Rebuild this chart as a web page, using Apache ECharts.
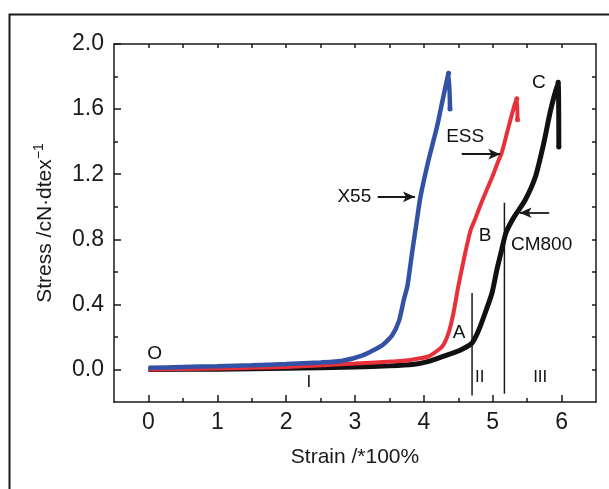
<!DOCTYPE html>
<html>
<head>
<meta charset="utf-8">
<script src="https://cdn.jsdelivr.net/npm/echarts@6/dist/echarts.min.js"></script>
<style>
  html, body { margin: 0; padding: 0; background: #fff; }
  #chart { width: 609px; height: 489px; }
</style>
</head>
<body>
<div id="chart"></div>
<script>
// tick positions
var majorX = [0, 1, 2, 3, 4, 5, 6];
var minorX = [0.5, 1.5, 2.5, 3.5, 4.5, 5.5];
var allX = [0, 0.5, 1, 1.5, 2, 2.5, 3, 3.5, 4, 4.5, 5, 5.5, 6];
var majorY = [0, 0.4, 0.8, 1.2, 1.6, 2.0];
var minorY = [0.2, 0.6, 1.0, 1.4, 1.8];
var allY = [0, 0.2, 0.4, 0.6, 0.8, 1.0, 1.2, 1.4, 1.6, 1.8];

// curves [strain, stress]
var x55 = [[0, 0.01], [0.5, 0.015], [1, 0.02], [1.5, 0.026], [2, 0.033], [2.5, 0.043], [2.8, 0.052],
  [3.1, 0.085], [3.4, 0.15], [3.54, 0.21], [3.64, 0.3], [3.71, 0.43], [3.76, 0.51], [3.83, 0.72],
  [3.9, 0.92], [3.95, 1.06], [4.07, 1.29], [4.19, 1.49], [4.29, 1.69], [4.36, 1.82], [4.38, 1.6]];
var ess = [[0, 0.0], [0.5, 0.003], [1, 0.006], [1.5, 0.01], [2, 0.015], [2.6, 0.028], [3, 0.036],
  [3.59, 0.05], [3.83, 0.06], [4.07, 0.08], [4.27, 0.143], [4.36, 0.226], [4.43, 0.347], [4.5, 0.51],
  [4.6, 0.715], [4.68, 0.857], [4.75, 0.93], [4.85, 1.04], [4.99, 1.18], [5.09, 1.29], [5.13, 1.33],
  [5.23, 1.49], [5.35, 1.664], [5.36, 1.535]];
var cm800 = [[0, 0.0], [1, 0.002], [2, 0.007], [3, 0.015], [3.5, 0.022], [3.83, 0.03], [4.07, 0.05],
  [4.31, 0.085], [4.51, 0.115], [4.7, 0.163], [4.8, 0.245], [4.89, 0.347], [4.99, 0.47], [5.06, 0.612],
  [5.13, 0.735], [5.19, 0.837], [5.3, 0.93], [5.47, 1.04], [5.62, 1.184], [5.74, 1.388], [5.84, 1.592],
  [5.95, 1.765], [5.96, 1.367]];

// stage boundary lines
var boundary1 = [[4.70, -0.16], [4.70, 0.47]];
var boundary2 = [[5.17, -0.15], [5.17, 1.025]];

// arrows [from, to]
var arrows = [
  [[3.33, 1.061], [3.87, 1.061]],
  [[4.55, 1.323], [5.11, 1.323]],
  [[5.82, 0.963], [5.39, 0.963]]
];

// text annotations [x, y, text]
var notes = [[0.09, 0.098, 'O'], [4.51, 0.225, 'A'], [4.89, 0.82, 'B'], [5.67, 1.76, 'C'],
  [4.60, 1.433, 'ESS'], [2.99, 1.061, 'X55'], [5.71, 0.765, 'CM800']];
var stages = [[2.33, -0.08, 'I'], [4.81, -0.049, 'II'], [5.69, -0.049, 'III']];

var FONT = "'Liberation Sans', Arial, sans-serif";
var INK = '#1a1a1a';

// last two points get a small dot
function withEnds(arr, color) {
  return arr.map(function (p, i) {
    if (i >= arr.length - 2) {
      return {value: p, symbol: 'circle', symbolSize: 5, itemStyle: {color: color}};
    }
    return p;
  });
}

function xAx(pos, ticks, len, labels, showLine) {
  return {
    type: 'value', min: -0.5, max: 6.5, position: pos,
    splitLine: {show: false},
    axisLine: {show: showLine, onZero: false, lineStyle: {color: INK, width: 1.5}},
    axisTick: {show: true, inside: true, length: len, customValues: ticks, lineStyle: {color: INK, width: 1.5}},
    axisLabel: labels ? {show: true, customValues: labels, fontSize: 23, color: INK, fontFamily: FONT, margin: 9}
      : {show: false}
  };
}
function yAx(pos, ticks, len, labels, showLine) {
  return {
    type: 'value', min: -0.2, max: 2.0, position: pos,
    splitLine: {show: false},
    axisLine: {show: showLine, onZero: false, lineStyle: {color: INK, width: 1.5}},
    axisTick: {show: true, inside: true, length: len, customValues: ticks, lineStyle: {color: INK, width: 1.5}},
    axisLabel: labels ? {show: true, customValues: labels, fontSize: 23, color: INK, fontFamily: FONT, margin: 10,
      formatter: function (v) { return v.toFixed(1); }}
      : {show: false}
  };
}

var xMain = xAx('bottom', majorX, 7, majorX, true);
xMain.name = 'Strain /*100%';
xMain.nameLocation = 'middle';
xMain.nameGap = 45;
xMain.nameTextStyle = {fontSize: 21, color: INK, fontFamily: FONT};

var yMain = yAx('left', majorY, 7, majorY, true);
yMain.name = 'Stress /cN·dtex{sup|−1}';
yMain.nameLocation = 'middle';
yMain.nameGap = 56;
yMain.nameTextStyle = {fontSize: 21, color: INK, fontFamily: FONT,
  rich: {sup: {fontSize: 14, verticalAlign: 'top', color: INK, fontFamily: FONT, padding: [0, 0, 12, 0]}}};

var myChart = echarts.init(document.getElementById('chart'), null, {renderer: 'canvas'});

var option = {
  animation: false,
  backgroundColor: '#fff',
  grid: {left: 114, right: 13, top: 44, bottom: 87},
  graphic: [{
    type: 'rect', left: 7, top: 12, shape: {width: 640, height: 520},
    style: {fill: 'none', stroke: INK, lineWidth: 2}, silent: true
  }],
  xAxis: [xMain, xAx('bottom', minorX, 4, null, false), xAx('top', allX, 4, null, true)],
  yAxis: [yMain, yAx('left', minorY, 4, null, false), yAx('right', allY, 4, null, true)],
  series: [
    {type: 'line', data: boundary1, symbol: 'none', lineStyle: {color: INK, width: 1.5}, z: 1},
    {type: 'line', data: boundary2, symbol: 'none', lineStyle: {color: INK, width: 1.5}, z: 1},
    {name: 'CM800', type: 'line', data: withEnds(cm800, '#111'), symbol: 'none', showSymbol: true, smooth: 0.2,
      lineStyle: {color: '#111', width: 5}, z: 2},
    {name: 'ESS', type: 'line', data: withEnds(ess, '#e8303a'), symbol: 'none', showSymbol: true, smooth: 0.2,
      lineStyle: {color: '#e8303a', width: 4}, z: 3},
    {name: 'X55', type: 'line', data: withEnds(x55, '#3352a6'), symbol: 'none', showSymbol: true, smooth: 0.2,
      lineStyle: {color: '#3352a6', width: 4.5}, z: 4},
    {
      type: 'line', data: [], symbol: 'none',
      markLine: {
        silent: true, symbol: ['none', 'arrow'], symbolSize: [8, 12],
        lineStyle: {color: INK, width: 1.8, type: 'solid'},
        label: {show: false},
        data: arrows.map(function (a) { return [{coord: a[0]}, {coord: a[1]}]; })
      }, z: 5
    },
    {
      type: 'scatter', symbolSize: 0, data: notes, z: 6, itemStyle: {opacity: 1},
      label: {show: true, position: 'inside', formatter: function (p) { return p.data[2]; },
        fontSize: 19, color: '#111', fontFamily: FONT}
    },
    {
      type: 'scatter', symbolSize: 0, data: stages, z: 6, itemStyle: {opacity: 1},
      label: {show: true, position: 'inside', formatter: function (p) { return p.data[2]; },
        fontSize: 17, color: '#111', fontFamily: FONT}
    }
  ]
};
myChart.setOption(option);
</script>
</body>
</html>
